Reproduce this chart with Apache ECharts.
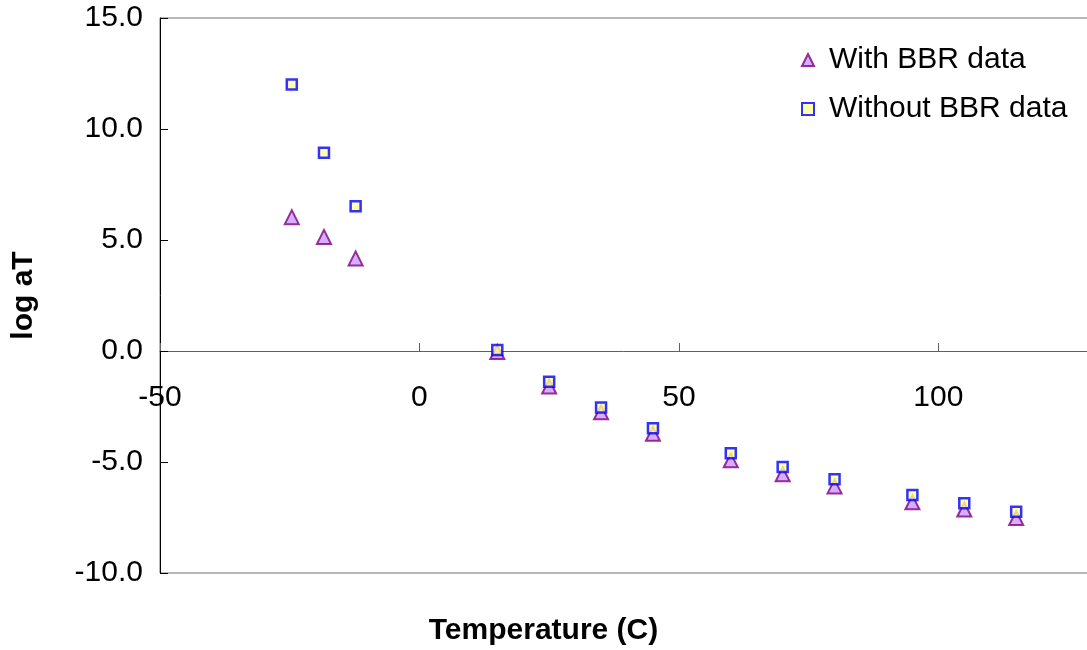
<!DOCTYPE html>
<html>
<head>
<meta charset="utf-8">
<script src="https://cdn.jsdelivr.net/npm/echarts@6/dist/echarts.min.js"></script>
<style>html,body{margin:0;padding:0;background:#fff}#c{width:1087px;height:650px}</style>
</head>
<body>
<div id="c"></div>
<script>
const temps = [-24.6, -18.4, -12.3, 15, 25, 35, 45, 60, 70, 80, 95, 105, 115];
const withBBR = [6.03, 5.14, 4.17, -0.05, -1.6, -2.76, -3.73, -4.92, -5.55, -6.1, -6.81, -7.14, -7.52];
const withoutBBR = [12.0, 8.93, 6.52, 0.05, -1.38, -2.55, -3.48, -4.61, -5.23, -5.78, -6.49, -6.86, -7.24];
const seriesNames = ['With BBR data', 'Without BBR data'];
const xTicks = [-50, 0, 50, 100];
const yTicks = [-10, -5, 0, 5, 10, 15];

const font = 'Liberation Sans, Arial, sans-serif';
const chart = echarts.init(document.getElementById('c'));
chart.setOption({
  animation: false,
  grid: { left: 160, right: -7, top: 18, bottom: 77, outerBoundsMode: 'none', containLabel: false, show: true, borderColor: '#707070', borderWidth: 1, backgroundColor: 'transparent' },
  legend: {
    orient: 'vertical', left: 796, top: 40, itemWidth: 12, itemHeight: 12, itemGap: 19,
    textStyle: { fontFamily: font, fontSize: 30, lineHeight: 30, color: '#000', padding: [0, 0, 0, 10] },
    data: [{ name: seriesNames[0], icon: 'triangle' }, { name: seriesNames[1], icon: 'rect' }]
  },
  xAxis: {
    type: 'value', min: xTicks[0], max: 130, interval: 50,
    axisLine: { onZero: true, lineStyle: { color: '#606060', width: 1 } },
    axisTick: { inside: true, length: 8, lineStyle: { color: '#606060' } },
    axisLabel: { showMaxLabel: false, margin: -190, fontFamily: font, fontSize: 30, color: '#000' },
    splitLine: { show: false }
  },
  yAxis: {
    type: 'value', min: yTicks[0], max: yTicks[yTicks.length - 1], interval: 5,
    name: 'log aT', nameLocation: 'middle', nameGap: 121,
    nameTextStyle: { fontFamily: font, fontSize: 30, fontWeight: 'bold', color: '#000' },
    axisLine: { show: true, onZero: false, lineStyle: { color: '#000', width: 1 } },
    axisTick: { inside: true, length: 8, lineStyle: { color: '#000' } },
    axisLabel: { margin: 17, fontFamily: font, fontSize: 30, color: '#000', formatter: v => v.toFixed(1) },
    splitLine: { show: false }
  },
  graphic: [{
    type: 'text', left: 'center', top: 616,
    style: { text: 'Temperature (C)', font: 'bold 30px Liberation Sans, Arial, sans-serif', fill: '#000' }
  }],
  series: [
    {
      name: seriesNames[0], type: 'scatter', symbol: 'triangle', symbolSize: 14,
      itemStyle: { color: '#CC99FF', borderColor: '#800080', borderWidth: 2 },
      data: temps.map((t, i) => [t, withBBR[i]])
    },
    {
      name: seriesNames[1], type: 'scatter', symbol: 'rect', symbolSize: 10,
      itemStyle: { color: '#FFFF99', borderColor: '#0000FF', borderWidth: 2.5 },
      data: temps.map((t, i) => [t, withoutBBR[i]])
    }
  ]
});
</script>
</body>
</html>
